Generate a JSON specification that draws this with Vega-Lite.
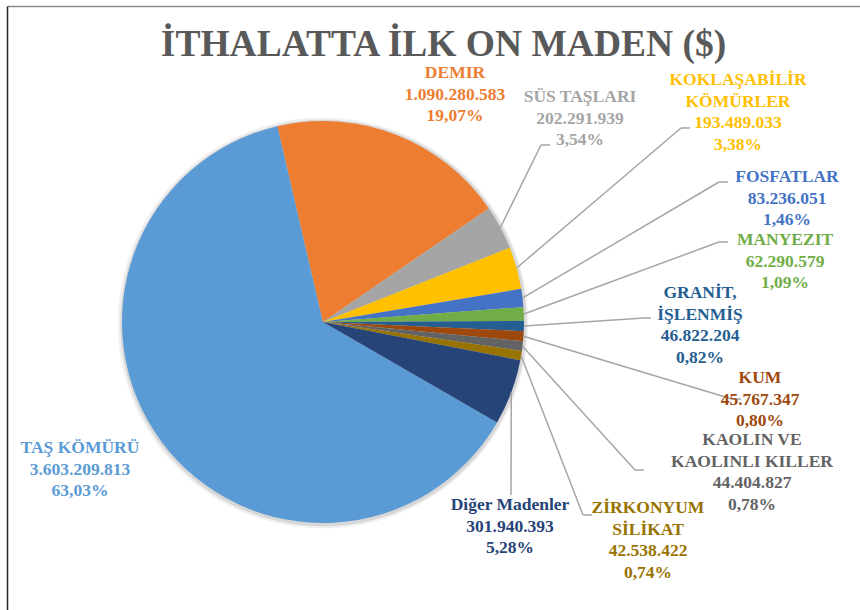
{
  "$schema": "https://vega.github.io/schema/vega-lite/v6.json",
  "width": 853,
  "height": 604,
  "padding": {"left": 7, "top": 6, "right": 0, "bottom": 0},
  "autosize": {"type": "none"},
  "background": "white",
  "title": {
    "text": "İTHALATTA İLK ON MADEN ($)",
    "font": "Liberation Serif",
    "fontSize": 37.5,
    "fontWeight": "bold",
    "color": "#595959",
    "anchor": "middle",
    "frame": "group",
    "baseline": "alphabetic",
    "dx": 10,
    "dy": 91
  },
  "config": {"view": {"stroke": null}},
  "data": {
    "values": [
      {"maden": "TAŞ KÖMÜRÜ", "deger": 3603209813},
      {"maden": "DEMIR", "deger": 1090280583},
      {"maden": "SÜS TAŞLARI", "deger": 202291939},
      {"maden": "KOKLAŞABİLİR\nKÖMÜRLER", "deger": 193489033},
      {"maden": "FOSFATLAR", "deger": 83236051},
      {"maden": "MANYEZIT", "deger": 62290579},
      {"maden": "GRANİT,\nİŞLENMİŞ", "deger": 46822204},
      {"maden": "KUM", "deger": 45767347},
      {"maden": "KAOLIN VE\nKAOLINLI KILLER", "deger": 44404827},
      {"maden": "ZİRKONYUM\nSİLİKAT", "deger": 42538422},
      {"maden": "Diğer Madenler", "deger": 301940393}
    ]
  },
  "transform": [
    {"window": [{"op": "row_number", "as": "sira"}]},
    {"joinaggregate": [{"op": "sum", "field": "deger", "as": "toplam"}]},
    {"window": [{"op": "sum", "field": "deger", "as": "kumulatif"}], "sort": [{"field": "sira"}], "frame": [null, 0]},
    {"calculate": "2.0944 + 2*PI*(datum.kumulatif - datum.deger/2)/datum.toplam", "as": "aci"},
    {"calculate": "201*sin(datum.aci)", "as": "p0x"},
    {"calculate": "201*cos(datum.aci)", "as": "p0y"},
    {"calculate": "split(datum.maden + '\\n' + replace(format(datum.deger, ','), /,/g, '.') + '\\n' + replace(format(datum.deger/datum.toplam, '.2%'), '.', ','), '\\n')", "as": "etiket"},
    {"calculate": "[-243, 132, 257, 415, 464, 462, 377, 437, 429, 325, 187][datum.sira-1]", "as": "lx"},
    {"calculate": "[-126, 249, 225, 242, 145, 82, 29, -56, -118, -186, -183][datum.sira-1]", "as": "ly"},
    {"calculate": "[null, null, 227, 367, 405, 405, 328, 418, 321, 269, 188][datum.sira-1]", "as": "p2x"},
    {"calculate": "[null, null, 177, 194, 140, 80, 4, -77, -148, -193, -173][datum.sira-1]", "as": "p2y"},
    {"calculate": "[0, 0, 9, 9, 9, 9, 7, 9, 9, 9, 0][datum.sira-1]", "as": "kuyruk"},
    {"calculate": "datum.p2x - datum.kuyruk", "as": "p1x"}
  ],
  "layer": [
    {
      "transform": [{"aggregate": [{"op": "sum", "field": "deger", "as": "tot"}]}],
      "mark": {"type": "arc", "outerRadius": 205, "color": "#000000", "opacity": 0.06},
      "encoding": {
        "theta": {"field": "tot", "type": "quantitative"},
        "x": {"datum": 0, "type": "quantitative", "scale": {"domain": [-316, 537], "nice": false, "zero": false}, "axis": {"orient": "top", "labels": false, "ticks": false, "grid": false, "title": null, "domainColor": "#8c8c8c", "domainWidth": 1.5}},
        "y": {"datum": -1, "type": "quantitative", "scale": {"domain": [-288, 316], "nice": false, "zero": false}, "axis": {"orient": "left", "labels": false, "ticks": false, "grid": false, "title": null, "domainColor": "#262626", "domainWidth": 1.5}}
      }
    },
    {
      "transform": [{"aggregate": [{"op": "sum", "field": "deger", "as": "tot"}]}],
      "mark": {"type": "arc", "outerRadius": 203, "color": "#000000", "opacity": 0.1},
      "encoding": {
        "theta": {"field": "tot", "type": "quantitative"},
        "x": {"datum": 0.5, "type": "quantitative"},
        "y": {"datum": -1, "type": "quantitative"}
      }
    },
    {
      "mark": {"type": "arc", "outerRadius": 201},
      "encoding": {
        "theta": {"field": "deger", "type": "quantitative", "stack": true, "scale": {"range": [2.0944, 8.3776]}},
        "order": {"field": "sira", "type": "quantitative"},
        "color": {
          "field": "maden",
          "type": "nominal",
          "sort": null,
          "scale": {
            "domain": ["TAŞ KÖMÜRÜ", "DEMIR", "SÜS TAŞLARI", "KOKLAŞABİLİR\nKÖMÜRLER", "FOSFATLAR", "MANYEZIT", "GRANİT,\nİŞLENMİŞ", "KUM", "KAOLIN VE\nKAOLINLI KILLER", "ZİRKONYUM\nSİLİKAT", "Diğer Madenler"],
            "range": ["#5B9BD5", "#ED7D31", "#A5A5A5", "#FFC000", "#4472C4", "#70AD47", "#255E91", "#9E480E", "#636363", "#997300", "#264478"]
          },
          "legend": null
        },
        "x": {"datum": 0, "type": "quantitative"},
        "y": {"datum": 0, "type": "quantitative"}
      }
    },
    {
      "transform": [{"filter": "datum.p2x != null"}],
      "mark": {"type": "rule", "color": "#A6A6A6", "strokeWidth": 1.5},
      "encoding": {
        "x": {"field": "p0x", "type": "quantitative"},
        "y": {"field": "p0y", "type": "quantitative"},
        "x2": {"field": "p1x"},
        "y2": {"field": "p2y"}
      }
    },
    {
      "transform": [{"filter": "datum.p2x != null && datum.kuyruk > 0"}],
      "mark": {"type": "rule", "color": "#A6A6A6", "strokeWidth": 1.5},
      "encoding": {
        "x": {"field": "p1x", "type": "quantitative"},
        "y": {"field": "p2y", "type": "quantitative"},
        "x2": {"field": "p2x"},
        "y2": {"field": "p2y"}
      }
    },
    {
      "mark": {"type": "text", "font": "Liberation Serif", "fontSize": 17.5, "fontWeight": "bold", "align": "center", "baseline": "middle", "lineHeight": 21.5},
      "encoding": {
        "x": {"field": "lx", "type": "quantitative"},
        "y": {"field": "ly", "type": "quantitative"},
        "text": {"field": "etiket"},
        "color": {"field": "maden", "type": "nominal", "sort": null, "legend": null}
      }
    }
  ]
}
